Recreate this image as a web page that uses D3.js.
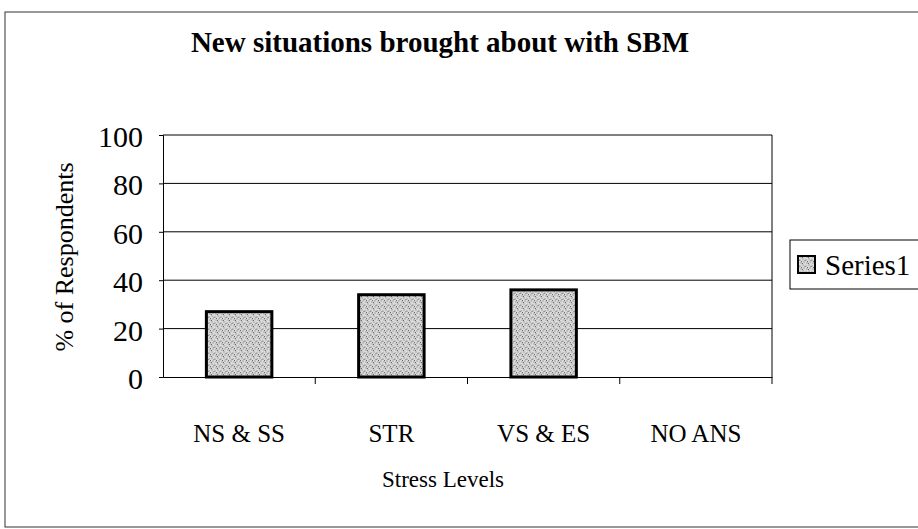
<!DOCTYPE html>
<meta charset="utf-8">
<style>
  body { margin: 0; background: #fff; }
  text { font-family: "Liberation Serif", "DejaVu Serif", serif; fill: #000; }
</style>
<div id="chart"></div>
<script src="https://d3js.org/d3.v7.min.js"></script>
<script>

// chart data
var categories = ["NS & SS", "STR", "VS & ES", "NO ANS"];
var values = [27, 34, 36, 0];
var yTicks = [0, 20, 40, 60, 80, 100];
var seriesName = "Series1";

var W = 918, H = 529;
var margin = {top: 135, right: 146, bottom: 152, left: 163},
    width = W - margin.left - margin.right,
    height = H - margin.top - margin.bottom;

var svg = d3.select("#chart")
  .append("svg")
    .attr("width", W)
    .attr("height", H);

// stipple pattern for the bars
var defs = svg.append("defs");
var pat = defs.append("pattern")
    .attr("id", "stipple")
    .attr("patternUnits", "userSpaceOnUse")
    .attr("width", 6)
    .attr("height", 6);
pat.append("rect").attr("width", 6).attr("height", 6).attr("fill", "#dadada");
[[0.5,0.5],[3.5,1.5],[1.5,3.5],[4.5,4.5],[2.5,2],[5,3],[0,5]].forEach(function(p) {
  pat.append("rect").attr("x", p[0]).attr("y", p[1]).attr("width", 1).attr("height", 1).attr("fill", "#6e6e6e");
});

// outer frame (right edge falls outside the picture)
svg.append("rect")
  .attr("x", 5).attr("y", 12)
  .attr("width", W + 10).attr("height", 515)
  .attr("fill", "none")
  .attr("stroke", "#333")
  .attr("stroke-width", 1);

var g = svg.append("g")
  .attr("transform", "translate(" + margin.left + "," + margin.top + ")");

var x = d3.scaleBand()
  .domain(categories)
  .range([0, width])
  .paddingInner(0.57)
  .paddingOuter(0.285);

var xCat = d3.scaleBand().domain(categories).range([0, width]);

var y = d3.scaleLinear()
  .domain([0, 100])
  .range([height, 0]);

// gridlines
g.selectAll(".grid")
  .data(yTicks.filter(function(d) { return d > 0; }))
  .enter().append("line")
    .attr("x1", 0).attr("x2", width)
    .attr("y1", function(d) { return y(d); })
    .attr("y2", function(d) { return y(d); })
    .attr("stroke", "#000")
    .attr("stroke-width", 1);

// plot frame right side
g.append("line")
  .attr("x1", width).attr("x2", width)
  .attr("y1", 0).attr("y2", height)
  .attr("stroke", "#000");

// bars
g.selectAll(".bar")
  .data(values)
  .enter().append("rect")
    .attr("x", function(d, i) { return x(categories[i]); })
    .attr("y", function(d) { return y(d); })
    .attr("width", x.bandwidth())
    .attr("height", function(d) { return height - y(d); })
    .attr("fill", "url(#stipple)")
    .attr("stroke", "#000")
    .attr("stroke-width", function(d) { return d > 0 ? 3 : 0; });

// y axis
var yAxis = g.append("g")
  .call(d3.axisLeft(y).tickValues(yTicks).tickSize(4).tickPadding(16));
yAxis.select(".domain").attr("stroke", "#000");
yAxis.selectAll("text")
  .style("font-family", "Liberation Serif")
  .style("font-size", "30px")
  .attr("dy", "0.38em");

// x axis
var xAxis = g.append("g")
  .attr("transform", "translate(0," + height + ")")
  .call(d3.axisBottom(xCat).tickSize(0).tickPadding(47));
xAxis.select(".domain").attr("stroke", "#000");
xAxis.selectAll("text")
  .style("font-family", "Liberation Serif")
  .style("font-size", "25px");
xAxis.selectAll(".sep")
  .data(categories.slice(1).concat(["end"]))
  .enter().append("line")
    .attr("x1", function(d, i) { return xCat.step() * (i + 1); })
    .attr("x2", function(d, i) { return xCat.step() * (i + 1); })
    .attr("y1", 0).attr("y2", 7)
    .attr("stroke", "#000");

// title
svg.append("text")
  .attr("x", 440).attr("y", 52)
  .attr("text-anchor", "middle")
  .style("font-size", "29px")
  .style("font-weight", "bold")
  .text("New situations brought about with SBM");

// axis titles
svg.append("text")
  .attr("transform", "translate(73," + (margin.top + height / 2 + 1) + ") rotate(-90)")
  .attr("text-anchor", "middle")
  .style("font-size", "26px")
  .text("% of Respondents");

svg.append("text")
  .attr("x", 443).attr("y", 487)
  .attr("text-anchor", "middle")
  .style("font-size", "23px")
  .text("Stress Levels");

// legend
var lg = svg.append("g").attr("transform", "translate(790,240)");
lg.append("rect")
  .attr("width", 132).attr("height", 49)
  .attr("fill", "#fff")
  .attr("stroke", "#000");
lg.append("rect")
  .attr("x", 8).attr("y", 16).attr("width", 17).attr("height", 17)
  .attr("fill", "url(#stipple)")
  .attr("stroke", "#000")
  .attr("stroke-width", 2);
lg.append("text")
  .attr("x", 35).attr("y", 35)
  .style("font-size", "29px")
  .text(seriesName);

</script>
